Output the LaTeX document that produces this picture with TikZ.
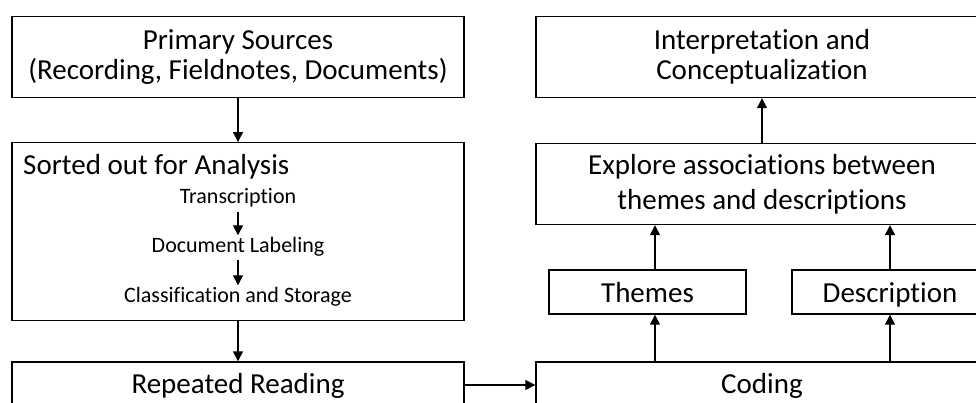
\documentclass[tikz,border=0pt]{standalone}
\usepackage{fontspec}
\setmainfont[RawFeature={-liga;-clig;-calt}]{Carlito}
\usetikzlibrary{arrows.meta,calc}
\begin{document}
\begin{tikzpicture}[x=1pt,y=-1pt,
  box/.style={draw,line width=1.4pt,inner sep=0pt,align=center,font=\fontsize{29}{30}\selectfont},
  one/.style={text height=20pt,text depth=4pt},
  small/.style={inner sep=0pt,font=\fontsize{22}{24}\selectfont},
  arr/.style={line width=1.4pt,-{Triangle[length=10pt,width=10pt]}}]
\useasboundingbox (0,0) rectangle (976,403);
\clip (0,0) rectangle (976,403);
\node[box,minimum width=452pt,minimum height=81pt] (ps) at (238,57) {Primary Sources\\(Recording, Fieldnotes, Documents)};
\node[box,minimum width=452pt,minimum height=177.5pt] (so) at (238,231.5) {};
\node[inner sep=0pt,anchor=base west,font=\fontsize{29}{30}\selectfont] (sot) at (23,175) {Sorted out for Analysis};
\node[small] (tr) at (238,198) {Transcription};
\node[small] (dl) at (238,247) {Document Labeling};
\node[small] (cs) at (238,297) {Classification and Storage};
\node[box,one,minimum width=452pt,minimum height=46pt] (rr) at (238,385) {Repeated Reading};
\node[box,minimum width=452pt,minimum height=81pt] (ic) at (762,57) {Interpretation and\\Conceptualization};
\node[box,minimum width=452pt,minimum height=81pt,font=\fontsize{29}{35}\selectfont] (ex) at (762,184) {Explore associations between\\themes and descriptions};
\node[box,text height=22pt,text depth=2pt,minimum width=197pt,minimum height=44pt] (th) at (647.5,292) {Themes};
\node[box,text height=22pt,text depth=2pt,minimum width=196pt,minimum height=44pt] (de) at (890,292) {Description};
\node[box,one,minimum width=452pt,minimum height=46pt] (co) at (762,385) {Coding};
\coordinate (tx) at (655,0);
\draw[arr] (ps.south) -- (so.north);
\draw[arr] (tr.south) ++(0,4) -- ($(dl.north)+(0,-2)$);
\draw[arr] (dl.south) ++(0,3) -- ($(cs.north)+(0,-2)$);
\draw[arr] (so.south) -- (rr.north);
\draw[arr] (rr.east) -- (co.west);
\draw[arr] (co.north -| tx) -- (th.south -| tx);
\draw[arr] (co.north -| de.south) -- (de.south);
\draw[arr] (th.north -| tx) -- (ex.south -| tx);
\draw[arr] (de.north) -- (ex.south -| de.north);
\draw[arr] (ex.north) -- (ic.south);
\end{tikzpicture}
\end{document}
